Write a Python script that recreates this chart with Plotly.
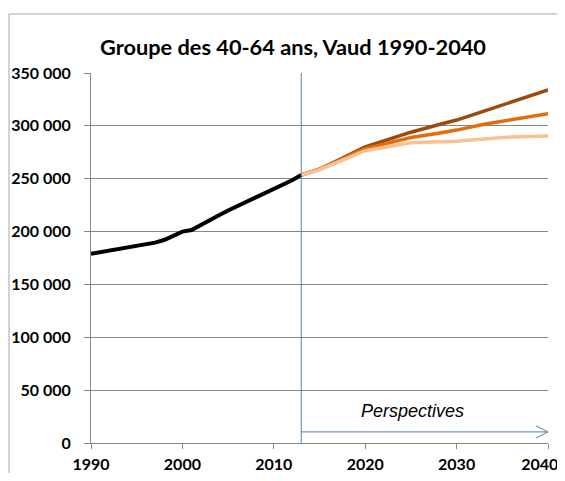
import plotly.graph_objects as go

# ---- data ----
hist_years = list(range(1990, 2014))
hist_values = [179000, 180500, 182000, 183500, 185000, 186500, 188000, 189500,
               192000, 195500, 200000, 201500, 206500, 211000, 215500, 220000,
               224000, 228000, 232000, 236000, 240000, 245000, 248500, 253500]

proj_years = [2013, 2015, 2020, 2025, 2028, 2030, 2033, 2036, 2040]
proj_high = [253500, 259000, 280000, 294000, 301000, 305500, 314000, 322500, 334000]
proj_mid = [253500, 259000, 278500, 289000, 293000, 296000, 301500, 306000, 311500]
proj_low = [253500, 258500, 276500, 284000, 285000, 285500, 287500, 289500, 290500]

x_ticks = [1990, 2000, 2010, 2020, 2030, 2040]
y_ticks = [0, 50000, 100000, 150000, 200000, 250000, 300000, 350000]
y_tick_labels = ["0", "50 000", "100 000", "150 000", "200 000", "250 000", "300 000", "350 000"]

title_text = "Groupe des 40-64 ans, Vaud 1990-2040"
proj_label = "Perspectives"
proj_start = 2013
arrow_y = 10500

FONT = "Lato, Calibri, sans-serif"
BLUE = "#4F81BD"

# last x tick label padded so it stays inside the visible page
x_tick_text = ["<b>%d</b>" % v for v in x_ticks]
x_tick_text[-1] = "<b>%d</b>" % x_ticks[-1] + "\u00a0" * 4

fig = go.Figure()
fig.add_trace(go.Scatter(x=proj_years, y=proj_high, mode="lines",
                         line=dict(color="#9C4A0C", width=3.5), showlegend=False))
fig.add_trace(go.Scatter(x=proj_years, y=proj_mid, mode="lines",
                         line=dict(color="#E46C0A", width=3.5), showlegend=False))
fig.add_trace(go.Scatter(x=proj_years, y=proj_low, mode="lines",
                         line=dict(color="#FAC090", width=3.5), showlegend=False))
fig.add_trace(go.Scatter(x=hist_years, y=hist_values, mode="lines",
                         line=dict(color="#000000", width=4), showlegend=False))

shapes = [
    # outer chart border
    dict(type="rect", xref="paper", yref="paper", x0=-0.1794, x1=1.1, y0=-0.3, y1=1.1595,
         line=dict(color="#A6A6A6", width=1), layer="below"),
    # vertical separator
    dict(type="line", xref="x", yref="y", x0=proj_start, x1=proj_start, y0=0, y1=350000,
         line=dict(color=BLUE, width=1)),
    # horizontal arrow
    dict(type="line", xref="x", yref="y", x0=proj_start, x1=2040, y0=arrow_y, y1=arrow_y,
         line=dict(color=BLUE, width=1)),
    dict(type="line", xref="x", yref="y", x0=2038.7, x1=2040, y0=arrow_y + 5700, y1=arrow_y,
         line=dict(color=BLUE, width=1)),
    dict(type="line", xref="x", yref="y", x0=2038.7, x1=2040, y0=arrow_y - 5700, y1=arrow_y,
         line=dict(color=BLUE, width=1)),
]

fig.update_layout(
    width=557, height=465,
    margin=dict(l=83, r=17, t=65, b=30),
    paper_bgcolor="white", plot_bgcolor="white",
    title=dict(text="<b>" + title_text + "</b>", x=0.5117, xanchor="center",
               y=1 - 39 / 465, yanchor="middle",
               font=dict(family=FONT, size=21.75, color="#000000")),
    shapes=shapes,
    annotations=[dict(text="<i>" + proj_label + "</i>", x=2025.2, y=30500, xref="x", yref="y",
                      showarrow=False,
                      font=dict(family="Liberation Sans, Arial, sans-serif", size=18, color="#000000"))],
    xaxis=dict(range=[1990, 2040], tickvals=x_ticks, ticktext=x_tick_text,
               showgrid=False, zeroline=False, showline=True, linecolor="#868686", linewidth=1,
               ticks="outside", ticklen=5, tickcolor="#868686", automargin=False,
               ticklabelstandoff=2, ticklabeloverflow="allow",
               tickfont=dict(family=FONT, size=16, color="#000000")),
    yaxis=dict(range=[0, 350000], tickvals=y_ticks, ticktext=["<b>%s</b>" % t for t in y_tick_labels],
               showgrid=True, gridcolor="#868686", gridwidth=1, zeroline=False,
               showline=True, linecolor="#868686", linewidth=1, automargin=False,
               ticks="outside", ticklen=6, tickcolor="#868686", ticklabelstandoff=10,
               tickfont=dict(family=FONT, size=16, color="#000000")),
)

fig.write_html("out.html")
